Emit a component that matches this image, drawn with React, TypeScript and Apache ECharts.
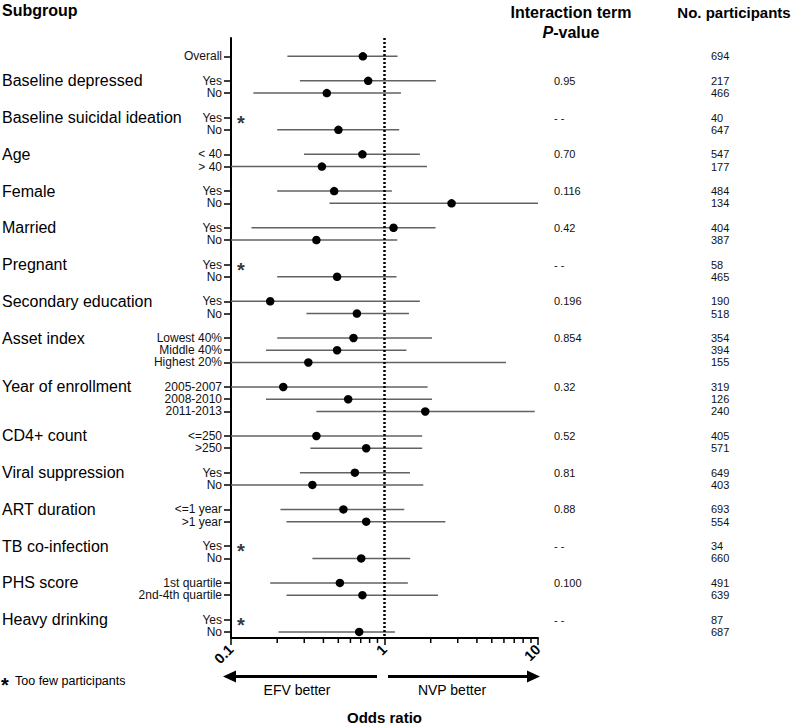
import React, { useEffect, useRef } from 'react';
import * as echarts from 'echarts';

// ---------- data ----------
const groupNames = [
  '', 'Baseline depressed', 'Baseline suicidal ideation', 'Age', 'Female', 'Married', 'Pregnant',
  'Secondary education', 'Asset index', 'Year of enrollment', 'CD4+ count', 'Viral suppression',
  'ART duration', 'TB co-infection', 'PHS score', 'Heavy drinking',
];
const groupSizes = [1, 2, 2, 2, 2, 2, 2, 2, 3, 3, 2, 2, 2, 2, 2, 2];
const pValues = ['', '0.95', '- -', '0.70', '0.116', '0.42', '- -', '0.196', '0.854', '0.32', '0.52', '0.81', '0.88', '- -', '0.100', '- -'];

const rowLabels = [
  'Overall',
  'Yes', 'No',
  'Yes', 'No',
  '< 40', '> 40',
  'Yes', 'No',
  'Yes', 'No',
  'Yes', 'No',
  'Yes', 'No',
  'Lowest 40%', 'Middle 40%', 'Highest 20%',
  '2005-2007', '2008-2010', '2011-2013',
  '<=250', '>250',
  'Yes', 'No',
  '<=1 year', '>1 year',
  'Yes', 'No',
  '1st quartile', '2nd-4th quartile',
  'Yes', 'No',
];
const oddsRatio: (number | null)[] = [
  0.723,
  0.783, 0.421,
  null, 0.501,
  0.718, 0.391,
  0.47, 2.735,
  1.145, 0.36,
  null, 0.491,
  0.18, 0.661,
  0.628, 0.491, 0.319,
  0.219, 0.58, 1.843,
  0.36, 0.76,
  0.641, 0.339,
  0.54, 0.76,
  null, 0.705,
  0.512, 0.718,
  null, 0.684,
];
const ciLower: (number | null)[] = [
  0.233,
  0.281, 0.14,
  null, 0.2,
  0.299, 0.1,
  0.2, 0.438,
  0.136, 0.1,
  null, 0.2,
  0.1, 0.31,
  0.2, 0.169, 0.1,
  0.1, 0.169, 0.36,
  0.1, 0.329,
  0.281, 0.1,
  0.21, 0.23,
  null, 0.339,
  0.18, 0.23,
  null, 0.204,
];
const ciUpper: (number | null)[] = [
  1.216,
  2.16, 1.28,
  null, 1.247,
  1.7, 1.89,
  1.117, 10,
  2.15, 1.21,
  null, 1.197,
  1.7, 1.443,
  2.04, 1.39, 6.19,
  1.91, 2.04, 9.52,
  1.76, 1.76,
  1.465, 1.788,
  1.345, 2.49,
  null, 1.47,
  1.42, 2.23,
  null, 1.169,
];
const participants = [
  694, 217, 466, 40, 647, 547, 177, 484, 134, 404, 387, 58, 465, 190, 518,
  354, 394, 155, 319, 126, 240, 405, 571, 649, 403, 693, 554, 34, 660, 491, 639, 87, 687,
];
const xTickLabels = ['0.1', '1', '10'];
const minorTickValues = [0.2, 0.3, 0.4, 0.5, 0.6, 0.7, 0.8, 0.9, 2, 3, 4, 5, 6, 7, 8, 9];

const FONT = '"Liberation Sans", Arial, Helvetica, sans-serif';
const STAR_X = 0.116;

export default function App() {
  const ref = useRef<HTMLDivElement>(null);

  useEffect(() => {
    const chart = echarts.init(ref.current!, null, { renderer: 'svg' });

    // slot layout: groups separated by one blank slot
    const rowSlot: number[] = [];
    const groupSlot: number[] = [];
    let s = 0;
    groupSizes.forEach((size) => {
      groupSlot.push(s);
      for (let k = 0; k < size; k++) rowSlot.push(s++);
      s++;
    });
    const lastSlot = rowSlot[rowSlot.length - 1];
    const yLab: Record<number, string> = {};
    const nLab: Record<number, string> = {};
    const gLab: Record<number, string> = {};
    const pLab: Record<number, string> = {};
    rowSlot.forEach((sl, i) => {
      yLab[sl] = rowLabels[i];
      nLab[sl] = String(participants[i]);
    });
    groupSlot.forEach((sl, g) => {
      gLab[sl] = groupNames[g];
      pLab[sl] = pValues[g];
    });
    const groupSlotsWithText = groupSlot.filter((sl) => gLab[sl] !== '');

    const ciData: number[][] = [];
    const dotData: number[][] = [];
    const starData: number[][] = [];
    rowSlot.forEach((sl, i) => {
      const o = oddsRatio[i];
      if (o == null) {
        starData.push([STAR_X, sl]);
      } else {
        dotData.push([o, sl]);
        ciData.push([ciLower[i] as number, ciUpper[i] as number, sl]);
      }
    });

    const baseY: any = {
      type: 'value',
      min: -1.5,
      max: lastSlot + 0.5,
      inverse: true,
      splitLine: { show: false },
    };
    const lookup = (m: Record<number, string>) => (v: number) => m[Math.round(v)] ?? '';
    const sideAxis = (position: string, margin: number, slots: number[], labels: Record<number, string>, fontSize: number, color: string) => ({
      ...baseY,
      position,
      offset: 0,
      axisLine: { show: false },
      axisTick: { show: false },
      axisLabel: {
        customValues: slots,
        hideOverlap: false,
        align: 'left',
        margin,
        fontSize,
        lineHeight: 12,
        color,
        fontFamily: FONT,
        formatter: lookup(labels),
      },
    });

    const option: any = {
      animation: false,
      backgroundColor: '#fff',
      grid: { left: 231, right: 262, top: 38, bottom: 88, containLabel: false, outerBoundsMode: 'none' },
      xAxis: {
        type: 'log',
        logBase: 10,
        min: 0.1,
        max: 10,
        position: 'bottom',
        axisLine: { show: true, onZero: false, lineStyle: { color: '#000', width: 2 } },
        axisTick: { show: true, length: 7, lineStyle: { color: '#000', width: 1.5 } },
        minorTick: { show: false },
        splitLine: { show: false },
        axisLabel: {
          rotate: 45,
          margin: 9,
          showMinLabel: true,
          showMaxLabel: true,
          hideOverlap: false,
          fontSize: 14.5,
          fontWeight: 'bold',
          color: '#000',
          fontFamily: FONT,
          formatter: (v: number) => xTickLabels[Math.round(Math.log10(v)) + 1],
        },
        name: 'Odds ratio',
        nameLocation: 'middle',
        nameGap: 72,
        nameMoveOverlap: false,
        nameTextStyle: { fontSize: 15, fontWeight: 'bold', color: '#000', fontFamily: FONT },
      },
      yAxis: [
        {
          ...baseY,
          position: 'left',
          axisLine: { show: true, onZero: false, lineStyle: { color: '#000', width: 2 } },
          axisTick: {
            show: true,
            customValues: rowSlot,
            length: 7,
            lineStyle: { color: '#000', width: 1.5 },
          },
          axisLabel: {
            customValues: rowSlot,
            hideOverlap: false,
            margin: 9,
            fontSize: 12,
            lineHeight: 12,
            color: '#111',
            fontFamily: FONT,
            formatter: lookup(yLab),
          },
        },
        sideAxis('left', 229, groupSlotsWithText, gLab, 16, '#000'),
        sideAxis('right', 16, groupSlotsWithText, pLab, 11, '#111'),
        sideAxis('right', 173, rowSlot, nLab, 11, '#111'),
      ],
      series: [
        {
          type: 'custom',
          xAxisIndex: 0,
          yAxisIndex: 0,
          data: ciData,
          encode: { x: [0, 1], y: 2 },
          renderItem: (_params: any, api: any) => {
            const p1 = api.coord([api.value(0), api.value(2)]);
            const p2 = api.coord([api.value(1), api.value(2)]);
            return {
              type: 'line',
              shape: { x1: p1[0], y1: p1[1], x2: p2[0], y2: p2[1] },
              style: { stroke: '#626262', lineWidth: 1.5 },
            };
          },
          z: 2,
        },
        {
          type: 'scatter',
          xAxisIndex: 0,
          yAxisIndex: 0,
          data: dotData,
          symbol: 'circle',
          symbolSize: 8.5,
          itemStyle: { color: '#000', opacity: 1 },
          z: 4,
          markLine: {
            silent: true,
            symbol: 'none',
            label: { show: false },
            lineStyle: { type: [2, 2], width: 2.5, color: '#000' },
            data: [{ xAxis: 1 }],
          },
        },
        {
          type: 'scatter',
          xAxisIndex: 0,
          yAxisIndex: 0,
          data: starData,
          symbolSize: 1,
          itemStyle: { color: 'rgba(0,0,0,0)' },
          label: {
            show: true,
            position: 'inside',
            formatter: '*',
            fontSize: 20,
            fontWeight: 'bold',
            lineHeight: 12,
            color: '#000',
            fontFamily: FONT,
            offset: [0, 5],
          },
        },
        {
          type: 'custom',
          xAxisIndex: 0,
          yAxisIndex: 0,
          clip: false,
          data: minorTickValues.map((v) => [v, 0]),
          encode: { x: 0, y: 1 },
          renderItem: (params: any, api: any) => {
            const cs = params.coordSys;
            const p = api.coord([api.value(0), 0]);
            const b = cs.y + cs.height;
            return {
              type: 'line',
              shape: { x1: p[0], y1: b, x2: p[0], y2: b + 5 },
              style: { stroke: '#000', lineWidth: 1.5 },
            };
          },
        },
      ],
      graphic: [
        { type: 'text', x: 2, y: 10, style: { text: 'Subgroup', font: `bold 16px ${FONT}`, fill: '#000', verticalAlign: 'middle' } },
        { type: 'text', x: 571, y: 12, style: { text: 'Interaction term', font: `bold 16px ${FONT}`, fill: '#000', align: 'center', verticalAlign: 'middle' } },
        {
          type: 'text', x: 571, y: 32,
          style: {
            text: '{i|P}-value', font: `bold 16px ${FONT}`, fill: '#000', align: 'center', verticalAlign: 'middle',
            rich: { i: { fontStyle: 'italic', fontWeight: 'bold', fontSize: 16, fontFamily: FONT } },
          },
        },
        { type: 'text', x: 734, y: 12, style: { text: 'No. participants', font: `bold 15px ${FONT}`, fill: '#000', align: 'center', verticalAlign: 'middle' } },
        // arrows
        { type: 'line', shape: { x1: 377, y1: 676.5, x2: 234, y2: 676.5 }, style: { stroke: '#000', lineWidth: 3.2 } },
        { type: 'polygon', shape: { points: [[223, 676.5], [236, 670.5], [236, 682.5]] }, style: { fill: '#000' } },
        { type: 'line', shape: { x1: 388, y1: 676.5, x2: 528, y2: 676.5 }, style: { stroke: '#000', lineWidth: 3.2 } },
        { type: 'polygon', shape: { points: [[540, 676.5], [527, 670.5], [527, 682.5]] }, style: { fill: '#000' } },
        { type: 'text', x: 297, y: 690, style: { text: 'EFV better', font: `14px ${FONT}`, fill: '#000', align: 'center', verticalAlign: 'middle' } },
        { type: 'text', x: 452, y: 690, style: { text: 'NVP better', font: `14px ${FONT}`, fill: '#000', align: 'center', verticalAlign: 'middle' } },
        // footnote
        { type: 'text', x: 1, y: 685, style: { text: '*', font: `bold 20px ${FONT}`, fill: '#000', verticalAlign: 'middle' } },
        { type: 'text', x: 15, y: 681, style: { text: 'Too few participants', font: `12.5px ${FONT}`, fill: '#000', verticalAlign: 'middle' } },
      ],
    };

    chart.setOption(option);
    return () => chart.dispose();
  }, []);

  return <div ref={ref} style={{ position: 'fixed', left: 0, top: 0, width: 800, height: 726 }} />;
}
